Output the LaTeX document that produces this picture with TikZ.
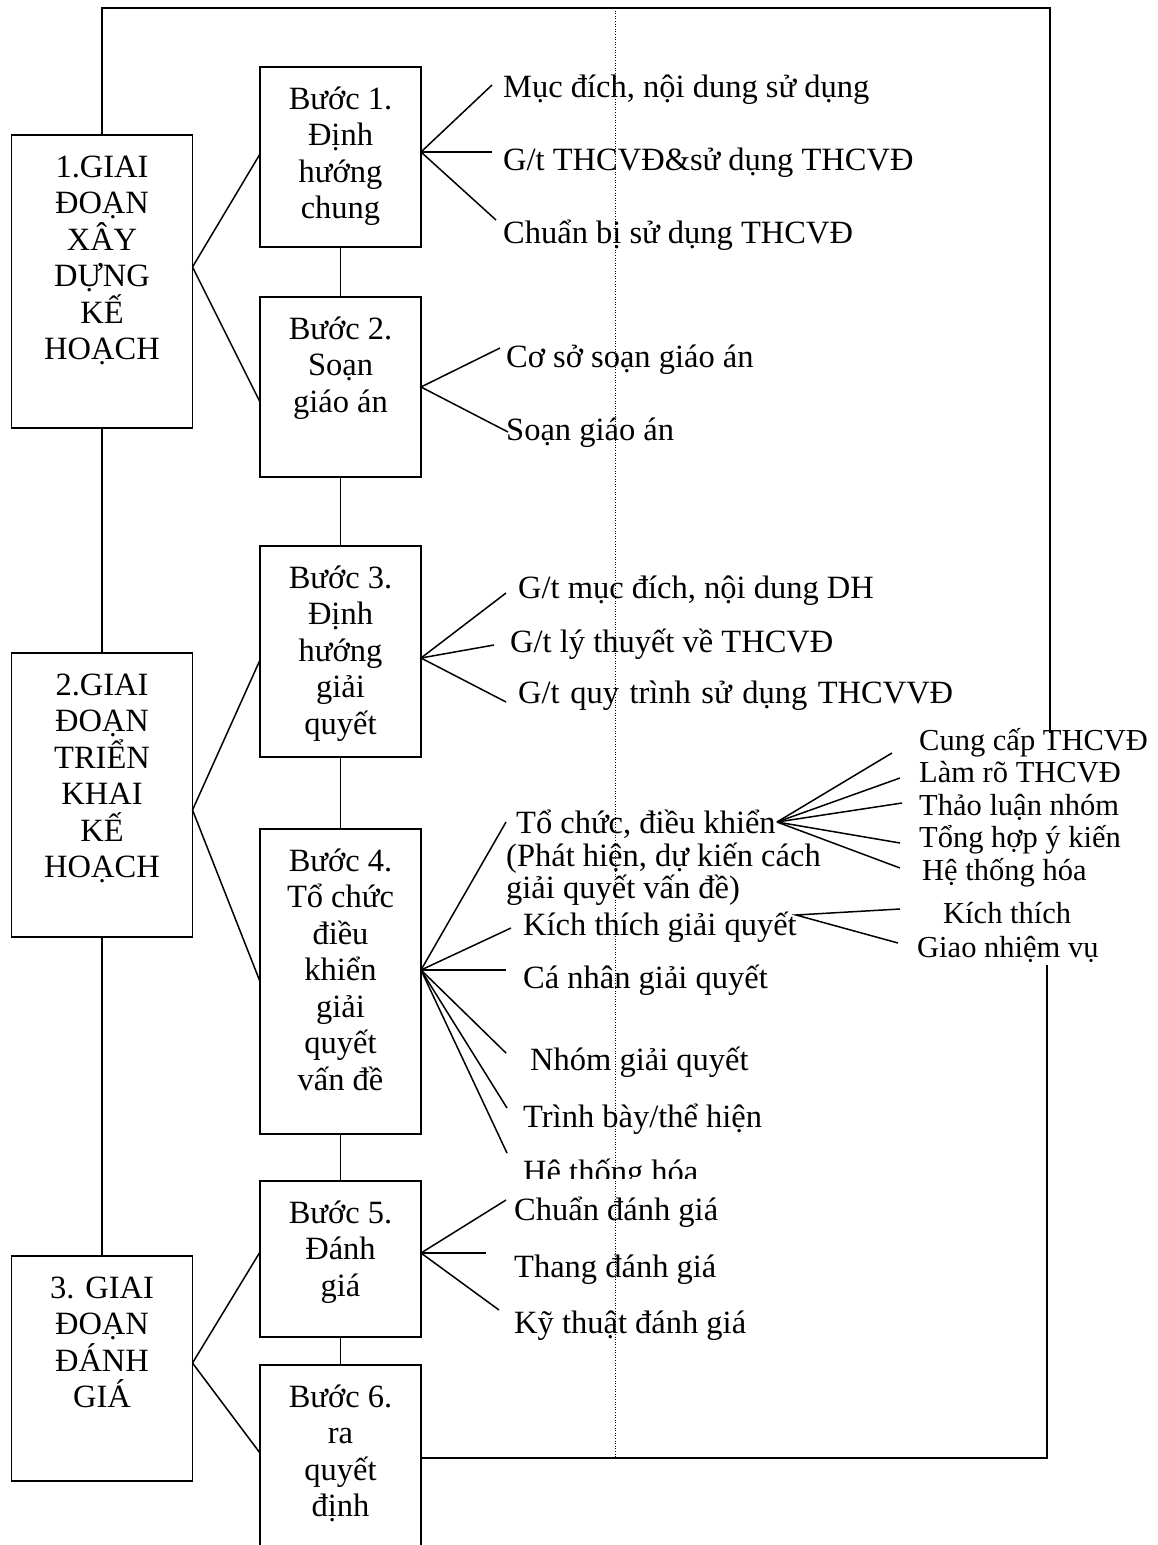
\documentclass[tikz,border=0pt]{standalone}
\usepackage{fontspec}
\setmainfont{Liberation Serif}
\newcommand{\boxcontent}[3]{\parbox[c][#2pt][t]{#1pt}{\centering\rule{0pt}{42pt}#3}}
\begin{document}
\begin{tikzpicture}[x=1pt,y=-1pt,
  every node/.style={font=\fontsize{32.5}{36.5}\selectfont},
  box/.style={draw, line width=1.8pt, inner sep=0pt, outer sep=0pt},
  lbl/.style={anchor=base west, inner sep=0pt},
  sublbl/.style={anchor=base west, inner sep=0pt, font=\fontsize{30.5}{32.5}\selectfont},
  conn/.style={line width=1.5pt},
  frame/.style={line width=1.8pt},
  guide/.style={line width=0.8pt, dash pattern=on 1pt off 1.6pt}]
\useasboundingbox (0,0) rectangle (1158,1545);
\fill[white] (0,0) rectangle (1158,1545);
\clip (0,0) rectangle (1158,1545);

% stage boxes
\node[box] (s1) at (102,281.5) {\boxcontent{181}{293}{1.GIAI\\ĐOẠN\\XÂY\\DỰNG\\KẾ\\HOẠCH}};
\node[box] (s2) at (102,795) {\boxcontent{181}{284}{2.GIAI\\ĐOẠN\\TRIỂN\\KHAI\\KẾ\\HOẠCH}};
\node[box] (s3) at (102,1368.5) {\boxcontent{181}{225}{3. GIAI\\ĐOẠN\\ĐÁNH\\GIÁ}};

% step boxes
\node[box] (b1) at (340.5,157) {\boxcontent{161}{180}{Bước 1.\\Định\\hướng\\chung}};
\node[box] (b2) at (340.5,387) {\boxcontent{161}{180}{Bước 2.\\Soạn\\giáo án}};
\node[box] (b3) at (340.5,651.5) {\boxcontent{161}{211}{Bước 3.\\Định\\hướng\\giải\\quyết}};
\node[box] (b4) at (340.5,981.5) {\boxcontent{161}{305}{Bước 4.\\Tổ chức\\điều\\khiển\\giải\\quyết\\vấn đề}};
\node[box] (b5) at (340.5,1259) {\boxcontent{161}{156}{Bước 5.\\Đánh\\giá}};
\node[box] (b6) at (340.5,1482.5) {\boxcontent{161}{235}{Bước 6.\\ra\\quyết\\định}};

% frame
\coordinate (ftl) at (102,8);
\coordinate (ftr) at (1050,8);
\coordinate (fr1) at (1050,733);
\coordinate (fr2) at (1047,965);
\coordinate (fbr) at (1047,1458);
\draw[frame] (s1.north) -- (ftl) -- (ftr) -- (fr1);
\draw[frame] (fr2) -- (fbr) -- (fbr -| b6.east);

% vertical links
\draw[conn] (s1.south) -- (s2.north);
\draw[conn] (s2.south) -- (s3.north);
\draw[conn] (b1.south) -- (b1.south |- b2.north);
\draw[conn] (b2.south) -- (b2.south |- b3.north);
\draw[conn] (b3.south) -- (b3.south |- b4.north);
\draw[conn] (b4.south) -- (b4.south |- b5.north);
\draw[conn] (b5.south) -- (b5.south |- b6.north);

% stage -> steps
\draw[conn] ([yshift=14.5pt]s1.east) -- ([yshift=3pt]b1.west);
\draw[conn] ([yshift=14.5pt]s1.east) -- ([yshift=-15pt]b2.west);
\draw[conn] ([yshift=-15pt]s2.east) -- ([yshift=-8.5pt]b3.west);
\draw[conn] ([yshift=-15pt]s2.east) -- (b4.west);
\draw[conn] ([yshift=5.5pt]s3.east) -- ([yshift=7pt]b5.west);
\draw[conn] ([yshift=5.5pt]s3.east) -- ([yshift=29.5pt]b6.west);

% labels step 1
\node[lbl] (l1a) at (503,97) {Mục đích, nội dung sử dụng};
\node[lbl] (l1b) at (503,170) {G/t THCVĐ\&sử dụng THCVĐ};
\node[lbl] (l1c) at (503,243) {Chuẩn bị sử dụng THCVĐ};
\coordinate (e1a) at (492,85);
\coordinate (e1b) at (492,152);
\coordinate (e1c) at (496,220);
\draw[conn] (e1a) -- ([yshift=5pt]b1.east) -- (e1c);
\draw[conn] ([yshift=5pt]b1.east) -- (e1b);

% step 2
\node[lbl] (l2a) at (506,367) {Cơ sở soạn giáo án};
\node[lbl] (l2b) at (506,440) {Soạn giáo án};
\coordinate (e2a) at (500,348);
\coordinate (e2b) at (508,432);
\draw[conn] (e2a) -- (b2.east) -- (e2b);

% step 3
\node[lbl] (l3a) at (518,598) {G/t mục đích, nội dung DH};
\node[lbl] (l3b) at (510,652) {G/t lý thuyết về THCVĐ};
\node[lbl] (l3c) at (518,703) {\makebox[435pt][s]{G/t quy trình sử dụng THCVVĐ}};
\coordinate (e3a) at (506,593);
\coordinate (e3b) at (494,645);
\coordinate (e3c) at (506,702);
\draw[conn] (e3a) -- ([yshift=-6.5pt]b3.east) -- (e3c);
\draw[conn] ([yshift=-6.5pt]b3.east) -- (e3b);

% step 4
\node[lbl] (l4a) at (516,833) {Tổ chức, điều khiển};
\node[lbl] (l4a2) at (506,866) {(Phát hiện, dự kiến cách};
\node[lbl] (l4a3) at (506,898) {giải quyết vấn đề)};
\node[lbl] (l4b) at (523,935) {Kích thích giải quyết};
\node[lbl] (l4c) at (523,988) {Cá nhân giải quyết};
\node[lbl] (l4d) at (530,1070) {Nhóm giải quyết};
\node[lbl] (l4e) at (523,1127) {Trình bày/thể hiện};
\begin{scope}
\clip (500,1100) rectangle (780,1178);
\node[lbl] (l4f) at (523,1182) {Hệ thống hóa};
\end{scope}
\coordinate (e4a) at (506,822);
\coordinate (e4b) at (511,928);
\coordinate (e4c) at (506,970);
\coordinate (e4d) at (506,1053);
\coordinate (e4e) at (507,1108);
\coordinate (e4f) at (507,1153);
\foreach \e in {e4a,e4b,e4c,e4d,e4e,e4f}
  \draw[conn] ([yshift=11.5pt]b4.east) -- (\e);

% sub-branches of "To chuc, dieu khien"
\node[sublbl] (m1) at (919,750) {Cung cấp THCVĐ};
\node[sublbl] (m2) at (919,782) {Làm rõ THCVĐ};
\node[sublbl] (m3) at (919,815) {Thảo luận nhóm};
\node[sublbl] (m4) at (919,847) {Tổng hợp ý kiến};
\node[sublbl] (m5) at (922,880) {Hệ thống hóa};
\coordinate (om) at (777,822);
\coordinate (em1) at (892,753);
\coordinate (em2) at (900,778);
\coordinate (em3) at (902,803);
\coordinate (em4) at (900,843);
\coordinate (em5) at (900,868);
\foreach \e in {em1,em2,em3,em4,em5}
  \draw[conn] (om) -- (\e);

% sub-branches of "Kich thich giai quyet"
\node[sublbl] (k1) at (943,923) {Kích thích};
\node[sublbl] (k2) at (917,957) {Giao nhiệm vụ};
\coordinate (ok) at (796,915);
\coordinate (ek1) at (900,909);
\coordinate (ek2) at (898,943);
\draw[conn] (ek1) -- (ok) -- (ek2);

% step 5
\node[lbl] (l5a) at (514,1220) {Chuẩn đánh giá};
\node[lbl] (l5b) at (514,1277) {Thang đánh giá};
\node[lbl] (l5c) at (514,1333) {Kỹ thuật đánh giá};
\coordinate (e5a) at (506,1200);
\coordinate (e5b) at (486,1253);
\coordinate (e5c) at (499,1310);
\draw[conn] (e5a) -- ([yshift=6pt]b5.east) -- (e5c);
\draw[conn] ([yshift=6pt]b5.east) -- (e5b);

% dotted guide
\coordinate (dt) at (615,8);
\coordinate (db) at (615,1458);
\draw[guide] (dt) -- (db);
\end{tikzpicture}
\end{document}
